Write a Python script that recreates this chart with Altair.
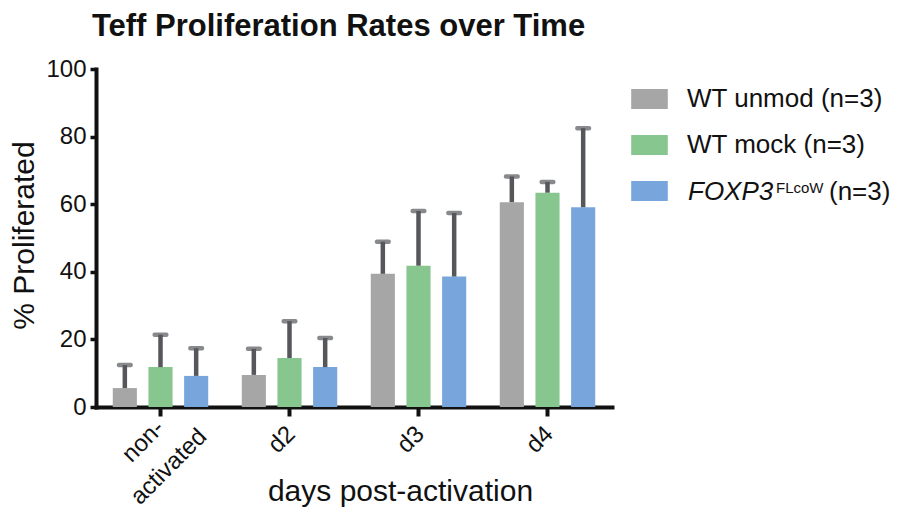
import altair as alt
import pandas as pd

FONT = "Liberation Sans"
INK = "#111111"
ERR = "#56575b"

title_text = "Teff Proliferation Rates over Time"
days = ["non-activated", "d2", "d3", "d4"]
groups = ["WT unmod (n=3)", "WT mock (n=3)", "FOXP3 FLcoW (n=3)"]
colors = ["#a6a6a6", "#88c68f", "#78a6dc"]

unmod_mean = [5.6, 9.5, 39.4, 60.6]
unmod_sd = [6.8, 7.7, 9.5, 7.6]
mock_mean = [11.8, 14.5, 41.8, 63.4]
mock_sd = [9.6, 10.9, 16.2, 3.2]
foxp3_mean = [9.2, 11.8, 38.6, 59.1]
foxp3_sd = [8.2, 8.6, 18.8, 23.4]

y_ticks = [0, 20, 40, 60, 80, 100]
foxp3_label = ["FOXP3", "FLcoW", "(n=3)"]

rows = []
for g, means, sds in zip(groups, [unmod_mean, mock_mean, foxp3_mean], [unmod_sd, mock_sd, foxp3_sd]):
    for d, m, s in zip(days, means, sds):
        rows.append({"day": d, "group": g, "mean": m, "upper": m + s})
df = pd.DataFrame(rows)

W, H = 516, 338
NA = "datum.value === 'non-activated'"

x_axis = alt.Axis(
    title="days post-activation", titleFont=FONT, titleFontSize=30, titleFontWeight="normal",
    titleColor=INK, titleX=304, titleY=93, titleAlign="center", titleBaseline="alphabetic",
    labelFont=FONT, labelFontSize=24, labelColor=INK, labelAngle=-45,
    labelAlign={"condition": {"test": NA, "value": "center"}, "value": "right"},
    labelBaseline="middle",
    labelPadding={"condition": {"test": NA, "value": 25}, "value": 14},
    labelOffset={"condition": {"test": NA, "value": -17}, "value": 2},
    labelExpr="datum.value === 'non-activated' ? ['non-', 'activated'] : datum.value",
    labelLineHeight=36, labelOverlap=False, labelBound=False,
    domainWidth=4, domainColor=INK, domainCap="square",
    tickSize=9, tickWidth=4, tickColor=INK,
)
y_axis = alt.Axis(
    values=y_ticks, title="% Proliferated", titleFont=FONT, titleFontSize=30, titleFontWeight="normal",
    titleColor=INK, titleAngle=270, titleX=-63, titleY=166, titleAlign="center",
    titleBaseline="alphabetic",
    labelFont=FONT, labelFontSize=24, labelColor=INK, labelPadding=4,
    tickSize=6, tickWidth=3.5, tickColor=INK,
    domainWidth=4, domainColor=INK, domainCap="square", grid=False,
)

X = alt.X("day:N", sort=days, scale=alt.Scale(paddingInner=0.26, paddingOuter=0.13), axis=x_axis)
XO = alt.XOffset("group:N", sort=groups, scale=alt.Scale(paddingInner=0.324, paddingOuter=0))
yscale = alt.Scale(domain=[0, 100], nice=False)

base = alt.Chart(df)

bars = base.mark_bar().encode(
    x=X, xOffset=XO,
    y=alt.Y("mean:Q", scale=yscale, axis=y_axis),
    color=alt.Color(
        "group:N", sort=groups, scale=alt.Scale(domain=groups, range=colors),
        legend=alt.Legend(
            title=None, orient="none", legendX=540.5, legendY=17, padding=0,
            symbolType="M-1.83,-1L1.83,-1L1.83,1L-1.83,1Z", symbolSize=400,
            symbolStrokeWidth=0, symbolOpacity=1,
            labelFont=FONT, labelFontSize=26, labelColor=INK, labelOffset=24.5,
            labelLimit=400, rowPadding=20,
            labelExpr="indexof(datum.label, 'FOXP3') >= 0 ? '' : datum.label",
        ),
    ),
)

rules = base.mark_rule(color=ERR, strokeWidth=4.5).encode(
    x=X, xOffset=XO,
    y=alt.Y("mean:Q", scale=yscale, axis=y_axis), y2="upper:Q",
)
caps = base.mark_tick(color=ERR, thickness=4.5, size=16, cornerRadius=2, orient="horizontal").encode(
    x=X, xOffset=XO,
    y=alt.Y("upper:Q", scale=yscale, axis=y_axis),
)

lab = alt.Chart(pd.DataFrame({"t": [0]}))
title_mark = lab.mark_text(text=title_text, font=FONT, fontSize=31, fontWeight="bold", color=INK,
                           align="center", baseline="alphabetic").encode(x=alt.value(242.5), y=alt.value(-33))
t1 = lab.mark_text(text=foxp3_label[0], font=FONT, fontSize=26, fontStyle="italic", color=INK,
                   align="left", baseline="alphabetic").encode(x=alt.value(592), y=alt.value(131))
t2 = lab.mark_text(text=foxp3_label[1], font=FONT, fontSize=15, color=INK,
                   align="left", baseline="alphabetic").encode(x=alt.value(680), y=alt.value(124))
t3 = lab.mark_text(text=foxp3_label[2], font=FONT, fontSize=26, color=INK,
                   align="left", baseline="alphabetic").encode(x=alt.value(733), y=alt.value(131))

chart = alt.layer(bars, rules, caps, title_mark, t1, t2, t3).properties(
    width=W, height=H,
    autosize=alt.AutoSizeParams(type="none"),
    padding={"left": 88, "top": 61, "right": 279, "bottom": 108},
    background="white",
).configure_view(stroke=None)

chart.save("out.html", embed_options={"renderer": "svg", "actions": False})
